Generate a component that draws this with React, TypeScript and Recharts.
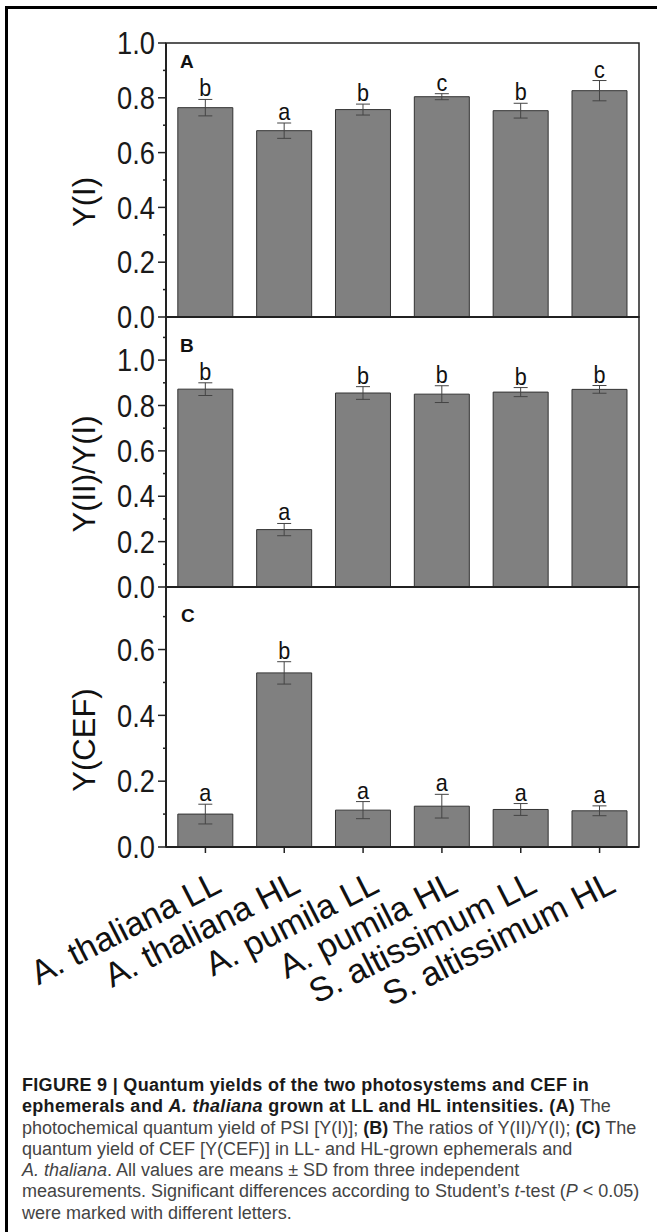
import React from 'react';
import { BarChart, Bar, XAxis, YAxis, ErrorBar, LabelList, ReferenceArea } from 'recharts';

// values (means and SD)
const categories = ['A. thaliana LL', 'A. thaliana HL', 'A. pumila LL', 'A. pumila HL', 'S. altissimum LL', 'S. altissimum HL'];

const yI = [0.764, 0.68, 0.757, 0.804, 0.753, 0.826];
const yIErr = [0.03, 0.028, 0.02, 0.011, 0.027, 0.037];
const yILetters = ['b', 'a', 'b', 'c', 'b', 'c'];

const ratio = [0.872, 0.253, 0.855, 0.85, 0.859, 0.871];
const ratioErr = [0.028, 0.027, 0.028, 0.037, 0.02, 0.017];
const ratioLetters = ['b', 'a', 'b', 'b', 'b', 'b'];

const cef = [0.1, 0.529, 0.112, 0.124, 0.114, 0.11];
const cefErr = [0.03, 0.034, 0.026, 0.036, 0.018, 0.015];
const cefLetters = ['a', 'b', 'a', 'a', 'a', 'a'];

// y ticks every 0.1, labels only on every second one
const ticksA = [0, 0.1, 0.2, 0.3, 0.4, 0.5, 0.6, 0.7, 0.8, 0.9, 1.0];
const ticksB = [0, 0.1, 0.2, 0.3, 0.4, 0.5, 0.6, 0.7, 0.8, 0.9, 1.0, 1.1];
const ticksC = [0, 0.1, 0.2, 0.3, 0.4, 0.5, 0.6, 0.7];

const FONT = '"Liberation Sans", Arial, sans-serif';
const AXIS = '#222';
const BAR_FILL = '#808080';
const BAR_STROKE = '#333';

const YTick = ({ x, y, payload }: any) => {
  const v = payload.value;
  const major = Math.round(v * 10) % 2 === 0;
  return (
    <g>
      <line x1={x - (major ? 8 : 3)} x2={x} y1={y} y2={y} stroke={AXIS} strokeWidth={1.5} />
      {major && (
        <text
          transform={`translate(${x - 11}, ${y}) scale(0.88, 1)`}
          dy="0.36em"
          textAnchor="end"
          fontSize={31}
          fill="#1a1a1a"
          fontFamily={FONT}
        >
          {v.toFixed(1)}
        </text>
      )}
    </g>
  );
};

const XTick = ({ x, y, payload }: any) => {
  const ax = x + 18;
  const ay = y + 38;
  return (
    <text x={ax} y={ay} textAnchor="end" transform={`rotate(-27, ${ax}, ${ay})`} fontSize={34} fill="#111" fontFamily={FONT}>
      {payload.value}
    </text>
  );
};

interface PanelProps {
  values: number[];
  errors: number[];
  letters: string[];
  max: number;
  ticks: number[];
  top: number;
  marginTop: number;
  plotHeight: number;
  xAxisHeight: number;
  showLabels: boolean;
}

const Panel: React.FC<PanelProps> = ({ values, errors, letters, max, ticks, top, marginTop, plotHeight, xAxisHeight, showLabels }) => {
  const data = categories.map((name, i) => ({ name, value: values[i], err: errors[i], letter: letters[i] }));
  const height = marginTop + plotHeight + xAxisHeight;

  const renderLetter = (p: any) => {
    const i = p.index;
    const pxPerUnit = Math.abs(p.height) / values[i];
    const yTop = p.y - errors[i] * pxPerUnit;
    return (
      <text
        key={`l-${i}`}
        transform={`translate(${p.x + p.width / 2}, ${yTop - 3}) scale(0.9, 1)`}
        textAnchor="middle"
        fontSize={24}
        fill="#111"
        fontFamily={FONT}
      >
        {letters[i]}
      </text>
    );
  };

  return (
    <div style={{ position: 'absolute', left: 0, top, width: 657, height }}>
      <BarChart width={657} height={height} data={data} margin={{ top: marginTop, right: 18, bottom: 0, left: 0 }} barCategoryGap="15%">
        <ReferenceArea y1={0} y2={max} fill="none" stroke={AXIS} strokeWidth={1.5} ifOverflow="visible" />
        <XAxis
          dataKey="name"
          interval={0}
          height={xAxisHeight}
          tickSize={6}
          tickMargin={0}
          tickLine={{ stroke: AXIS, strokeWidth: 1.5 }}
          axisLine={{ stroke: AXIS, strokeWidth: 2 }}
          tick={showLabels ? <XTick /> : false}
        />
        <YAxis
          width={166}
          domain={[0, max]}
          ticks={ticks}
          interval={0}
          allowDataOverflow
          tickSize={0}
          tickMargin={0}
          tickLine={false}
          axisLine={{ stroke: AXIS, strokeWidth: 2 }}
          tick={<YTick />}
        />
        <Bar dataKey="value" fill={BAR_FILL} stroke={BAR_STROKE} strokeWidth={1} isAnimationActive={false}>
          <ErrorBar dataKey="err" width={7} strokeWidth={1} stroke="#444" direction="y" />
          <LabelList dataKey="letter" content={renderLetter} />
        </Bar>
      </BarChart>
    </div>
  );
};

const App: React.FC = () => {
  const dark = { color: '#1a1a1a' };
  return (
    <div style={{ position: 'absolute', left: 0, top: 0, width: 657, height: 1232, background: '#fff', overflow: 'hidden' }}>
      <div style={{ position: 'absolute', left: 5, top: 6, width: 660, height: 1240, borderTop: '3px solid #000', borderLeft: '3px solid #000' }} />

      <Panel values={yI} errors={yIErr} letters={yILetters} max={1.0} ticks={ticksA} top={0} marginTop={43} plotHeight={274} xAxisHeight={22} showLabels={false} />
      <Panel values={ratio} errors={ratioErr} letters={ratioLetters} max={1.19} ticks={ticksB} top={300} marginTop={17} plotHeight={270} xAxisHeight={22} showLabels={false} />
      <Panel values={cef} errors={cefErr} letters={cefLetters} max={0.79} ticks={ticksC} top={570} marginTop={17} plotHeight={260} xAxisHeight={180} showLabels={true} />

      <svg width={657} height={1232} style={{ position: 'absolute', left: 0, top: 0, pointerEvents: 'none' }}>
        <g fontFamily={FONT} fill="#111">
          <text x={180} y={68} fontSize={19} fontWeight="bold">A</text>
          <text x={180} y={352} fontSize={19} fontWeight="bold">B</text>
          <text x={181} y={622} fontSize={19} fontWeight="bold">C</text>
          <text transform="translate(95, 202) rotate(-90)" textAnchor="middle" fontSize={31}>Y(I)</text>
          <text transform="translate(95, 474) rotate(-90)" textAnchor="middle" fontSize={31}>Y(II)/Y(I)</text>
          <text transform="translate(95, 740) rotate(-90)" textAnchor="middle" fontSize={31}>Y(CEF)</text>
        </g>
      </svg>

      <div style={{ position: 'absolute', left: 22, top: 1075, fontFamily: FONT, fontSize: 18, lineHeight: '21.3px', color: '#444', whiteSpace: 'nowrap' }}>
        <b style={{ ...dark, letterSpacing: 0.3 }}>FIGURE 9 | Quantum yields of the two photosystems and CEF in</b>
        <br />
        <b style={{ ...dark, letterSpacing: 0.3 }}>ephemerals and <i>A. thaliana</i> grown at LL and HL intensities. (A)</b> The
        <br />
        photochemical quantum yield of PSI [Y(I)]; <b style={dark}>(B)</b> The ratios of Y(II)/Y(I); <b style={dark}>(C)</b> The
        <br />
        quantum yield of CEF [Y(CEF)] in LL- and HL-grown ephemerals and
        <br />
        <i>A. thaliana</i>. All values are means ± SD from three independent
        <br />
        measurements. Significant differences according to Student’s <i>t</i>-test (<i>P</i> &lt; 0.05)
        <br />
        were marked with different letters.
      </div>
    </div>
  );
};

export default App;
